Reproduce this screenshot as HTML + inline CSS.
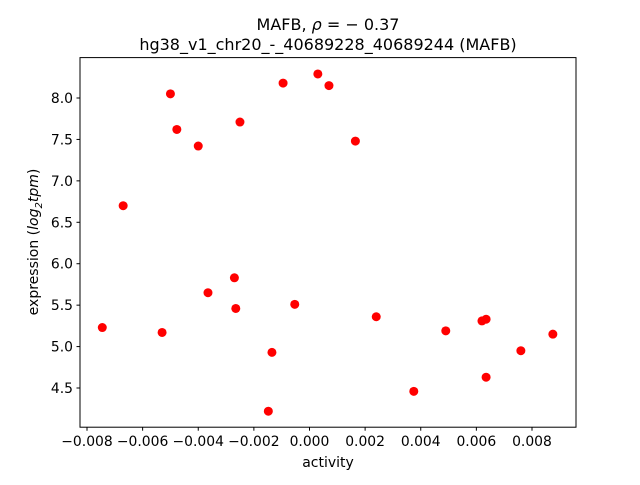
<!DOCTYPE html>
<html><head><meta charset="utf-8"><style>body{margin:0;background:#fff}svg text{font-family:"DejaVu Sans","Liberation Sans",sans-serif}</style></head>
<body>
<svg id="chart" width="640" height="480" xmlns="http://www.w3.org/2000/svg">
<rect width="640" height="480" fill="#fff"/>
<text x="328" y="30" font-size="16" text-anchor="middle">MAFB, <tspan font-style="italic">ρ</tspan> = − 0.37</text>
<text x="328" y="50" font-size="16" text-anchor="middle">hg38_v1_chr20_-_40689228_40689244 (MAFB)</text>
<g id="ticks"></g>
<g id="marks"></g>
<rect x="80" y="57.6" width="496" height="369.6" fill="none" stroke="#000" stroke-width="1"/>
<text x="328" y="467" font-size="14" text-anchor="middle">activity</text>
<text transform="translate(38,242) rotate(-90)" font-size="14" text-anchor="middle">expression (<tspan font-style="italic">log</tspan><tspan font-size="10" dy="4" font-style="italic">2</tspan><tspan dy="-4" font-style="italic">tpm</tspan>)</text>
</svg>
<script>
const xVals=[-0.00745,-0.0067,-0.0053,-0.0050,-0.00477,-0.0040,-0.00365,-0.0027,-0.00265,-0.0025,-0.00148,-0.00135,-0.00095,-0.00053,0.0003,0.0007,0.00165,0.0024,0.00375,0.0049,0.0062,0.00635,0.00635,0.0076,0.00875];
const yVals=[5.23,6.70,5.17,8.05,7.62,7.42,5.65,5.83,5.46,7.71,4.22,4.93,8.18,5.51,8.29,8.15,7.48,5.36,4.46,5.19,5.31,5.33,4.63,4.95,5.15];
const xTicks=[-0.008,-0.006,-0.004,-0.002,0.000,0.002,0.004,0.006,0.008];
const xTickLabels=["−0.008","−0.006","−0.004","−0.002","0.000","0.002","0.004","0.006","0.008"];
const yTicks=[4.5,5.0,5.5,6.0,6.5,7.0,7.5,8.0];
const yTickLabels=["4.5","5.0","5.5","6.0","6.5","7.0","7.5","8.0"];
const NS="http://www.w3.org/2000/svg";
function xs(v){return 87+(v+0.008)*27812;}
function ys(v){return 98+(8-v)*82.86;}
const tg=document.getElementById('ticks'),mg=document.getElementById('marks');
xTicks.forEach((t,i)=>{
 const l=document.createElementNS(NS,'line');
 
 
 l.setAttribute('x1',xs(t));l.setAttribute('x2',xs(t));l.setAttribute('y1',427.2);l.setAttribute('y2',430.7);l.setAttribute('stroke','#000');
 tg.appendChild(l);
 const tx=document.createElementNS(NS,'text');
 
 
 tx.setAttribute('x',xs(t));tx.setAttribute('y',446);tx.setAttribute('font-size','13.9');tx.setAttribute('text-anchor','middle');
 tx.textContent=xTickLabels[i];tg.appendChild(tx);
});
yTicks.forEach((t,i)=>{
 const l=document.createElementNS(NS,'line');
 
 
 l.setAttribute('x1',76.5);l.setAttribute('x2',80);l.setAttribute('y1',ys(t));l.setAttribute('y2',ys(t));l.setAttribute('stroke','#000');
 tg.appendChild(l);
 const tx=document.createElementNS(NS,'text');
 
 
 tx.setAttribute('x',73);tx.setAttribute('y',ys(t)+5);tx.setAttribute('font-size','13.9');tx.setAttribute('text-anchor','end');
 tx.textContent=yTickLabels[i];tg.appendChild(tx);
});
xVals.forEach((v,i)=>{
 const c=document.createElementNS(NS,'circle');
 
 
 c.setAttribute('cx',xs(v));c.setAttribute('cy',ys(yVals[i]));c.setAttribute('r',4.5);c.setAttribute('fill','#ff0000');
 mg.appendChild(c);
});
</script>
</body></html>
